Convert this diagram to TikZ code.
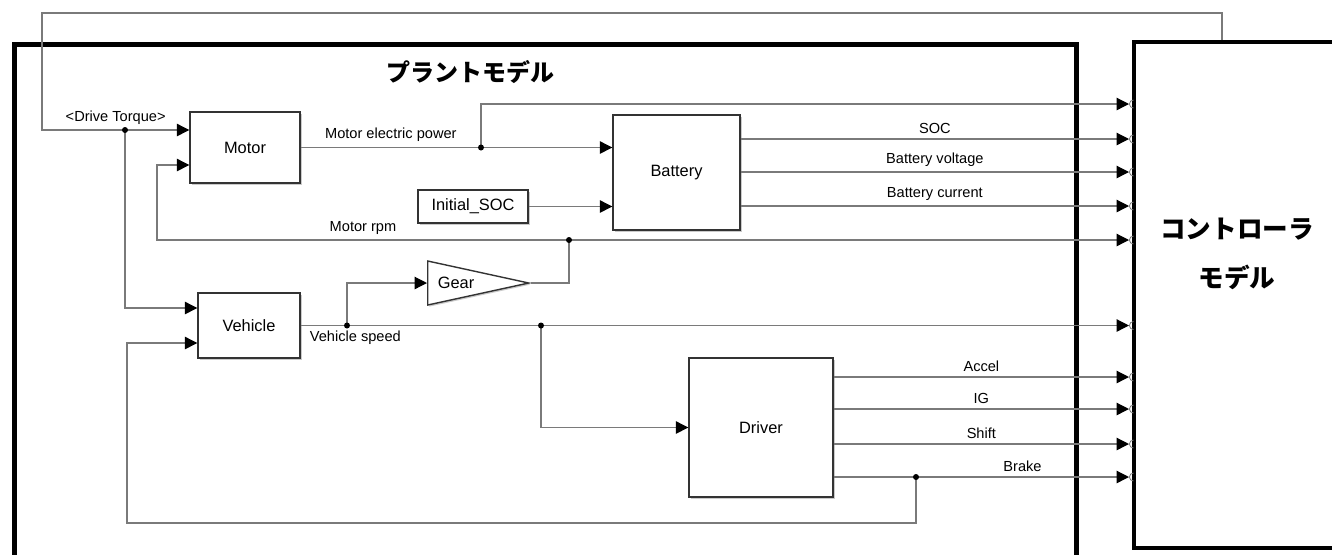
\documentclass[tikz,border=0pt]{standalone}
\usepackage{fontspec}
\setmainfont{Liberation Sans}
\newfontfamily\jpfont{Noto Sans CJK JP}
\usepackage{tikz}
\usetikzlibrary{arrows.meta,positioning,calc,shapes.geometric,shadows}
\definecolor{SimWire}{HTML}{7A7A7A}
\definecolor{SimEdge}{HTML}{333333}
\newcommand{\blkfont}{\fontsize{8.2}{9.5}\selectfont}
\newcommand{\lblfont}{\fontsize{7.3}{8.5}\selectfont}

\begin{document}
\begin{tikzpicture}[
  x=0.5pt,y=-0.5pt,
  block/.style={draw=SimEdge,line width=0.7pt,fill=white,font=\blkfont,
    drop shadow={shadow xshift=0.8pt,shadow yshift=-0.8pt,opacity=0.35,fill=black!60}},
  frame/.style={draw=black,line width=2.5pt},
  sig/.style={draw=SimWire,line width=0.6pt,-{Triangle[length=6.2pt,width=6.2pt,color=black]}},
  wire/.style={draw=SimWire,line width=0.6pt},
  lbl/.style={font=\lblfont,inner sep=2.5pt},
  jp/.style={font=\jpfont\bfseries\fontsize{12}{24.5}\selectfont,align=center},
]
\useasboundingbox (0,0) rectangle (1332,554);

% frames
\node[frame,minimum width=531pt,minimum height=278pt] (plant) at (545.5,322) {};
\node[jp] (planttitle) at (470,72) {プラントモデル};
\node[frame,line width=2pt,minimum width=105pt,minimum height=253pt] (ctrl) at (1239,295) {};
\node[jp,font=\jpfont\bfseries\fontsize{12.8}{24.5}\selectfont] (ctrltitle) at (1237,253.5) {コントローラ\\モデル};

% blocks
\node[block,minimum width=55pt,minimum height=35.5pt] (motor) at (245,147.5) {Motor};
\node[block,minimum width=63.5pt,minimum height=57.5pt] (battery) at (676.5,172.5) {Battery};
\node[block,minimum width=55pt,minimum height=16.5pt] (isoc) at (473,206.5) {Initial\_SOC};
\node[block,minimum width=51pt,minimum height=32.5pt] (vehicle) at (249,325.5) {Vehicle};
\node[block,minimum width=72pt,minimum height=69.5pt] (driver) at (761,427.5) {Driver};
\node[block,isosceles triangle,isosceles triangle stretches,inner sep=0pt,
  minimum width=22pt,minimum height=50.5pt,anchor=lower side] (gear) at (427,283) {};
\node[font=\blkfont] (geartext) at ($(gear.lower side)+(29,0)$) {Gear};

% ports and branch points
\foreach \n/\y in {1/104,2/139,3/172,4/206,5/240,6/325.5,7/377,8/409,9/444,10/477}
  \coordinate (p\n) at (1129,\y);
\coordinate (tq) at (42,130);
\coordinate (trq) at (1222,13);
\coordinate (j1) at (125,130);
\coordinate (j2) at (481,147.5);
\coordinate (j3) at (569,240);
\coordinate (j4) at (347,325.5);
\coordinate (j5) at (541,325.5);
\coordinate (j6) at (916,477);
\coordinate (rpmbend) at (157,240);
\coordinate (brkbend) at (127,523);

% signals
\draw[sig] (ctrl.north -| trq) -- (trq) -| (tq) -- node[lbl,above]{<Drive Torque>} (motor.west |- tq);
\draw[sig] (j1) |- ($(vehicle.west)+(0,-17.5)$);
\draw[sig] (motor) -- node[lbl,above]{Motor electric power} (j2) -- (battery.west |- motor);
\draw[sig] (j2) |- (p1);
\draw[sig] (isoc) -- (battery.west |- isoc);
\draw[sig] (battery.east |- p2) -- node[lbl,above]{SOC} (p2);
\draw[sig] (battery.east |- p3) -- node[lbl,above]{Battery voltage} (p3);
\draw[sig] (battery.east |- p4) -- node[lbl,above]{Battery current} (p4);
\draw[sig] (j3) -- (p5);
\draw[sig] (j3) -- node[lbl,above]{Motor rpm} (rpmbend) |- ($(motor.west)+(0,17.5)$);
\draw[wire] (gear.apex) -| (j3);
\draw[sig] (vehicle) -- node[lbl,below,pos=0.066]{Vehicle speed} (p6);
\draw[sig] (j4) |- (gear.lower side);
\draw[sig] (j5) |- (driver);
\draw[sig] (driver.east |- p7) -- node[lbl,above]{Accel} (p7);
\draw[sig] (driver.east |- p8) -- node[lbl,above]{IG} (p8);
\draw[sig] (driver.east |- p9) -- node[lbl,above]{Shift} (p9);
\draw[sig] (driver.east |- p10) -- (j6) -- node[lbl,above]{Brake} (p10);
\draw[sig] (j6) |- (brkbend) |- ($(vehicle.west)+(0,17.5)$);

\foreach \j in {j1,j2,j3,j4,j5,j6} \fill (\j) circle (1.5pt);
\foreach \n in {1,...,10}
  \draw[SimWire,line width=0.4pt] ([xshift=2.2pt,yshift=2pt]p\n) arc[start angle=90,end angle=270,radius=2pt];
\end{tikzpicture}
\end{document}
